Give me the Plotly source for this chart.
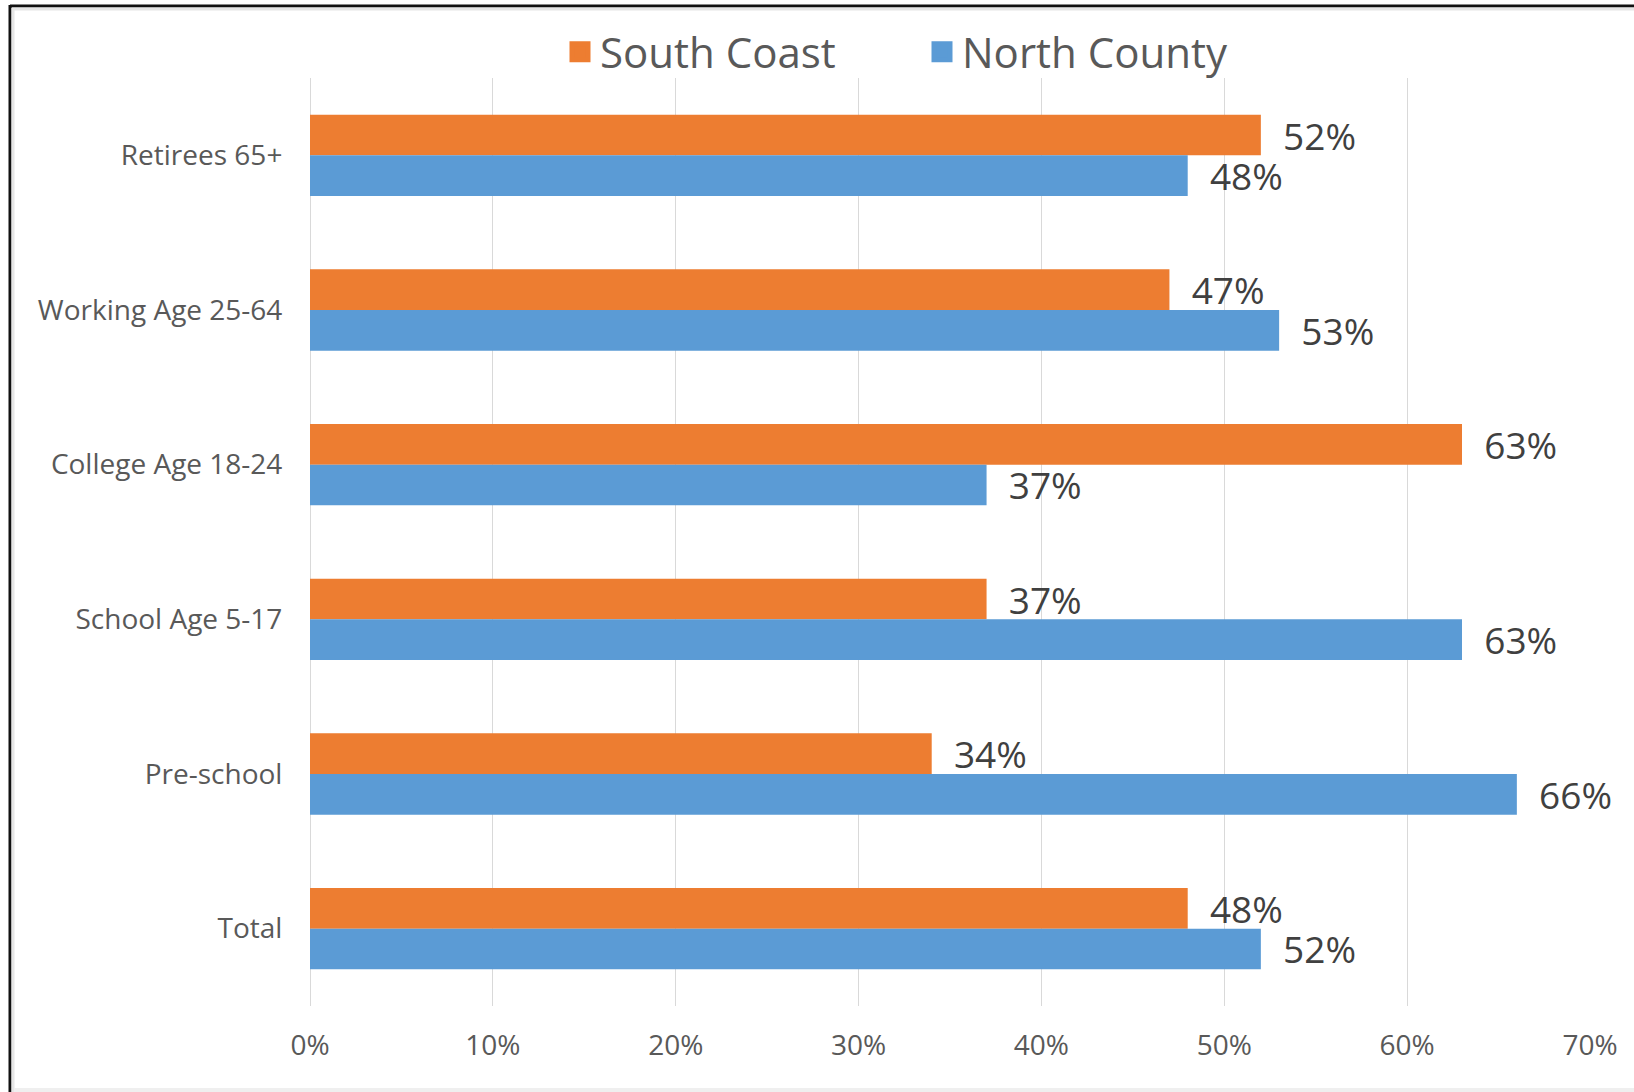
import plotly.graph_objects as go

categories = ["Retirees 65+", "Working Age 25-64", "College Age 18-24",
              "School Age 5-17", "Pre-school", "Total"]
series_names = ["South Coast", "North County"]
south_coast = [0.52, 0.47, 0.63, 0.37, 0.34, 0.48]
north_county = [0.48, 0.53, 0.37, 0.63, 0.66, 0.52]
series_colors = ["#ED7D31", "#5B9BD5"]
x_ticks = [0, 0.1, 0.2, 0.3, 0.4, 0.5, 0.6, 0.7]
x_ticklabels = ["0%", "10%", "20%", "30%", "40%", "50%", "60%", "70%"]

FONT = "Open Sans"
W, H = 1634, 1092
ML, MR, MT, MB = 310, 44, 78, 86
PW, PH = W - ML - MR, H - MT - MB


def px_x(px):
    return (px - ML) / PW


def px_y(py):
    return (H - MB - py) / PH


fig = go.Figure()
for name, vals, col in zip(series_names, [south_coast, north_county], series_colors):
    fig.add_trace(go.Bar(
        y=categories, x=vals, orientation="h", name=name,
        marker=dict(color=col, line=dict(width=0)),
        texttemplate="\u00a0\u00a0%{x:.0%}", textposition="outside",
        textfont=dict(family=FONT, size=37, color="#404040"),
        constraintext="none", cliponaxis=False, showlegend=False,
        hoverinfo="skip",
    ))

# legend entries with large square symbols
for name, col in zip(series_names, series_colors):
    fig.add_trace(go.Scatter(
        x=[None], y=[None], mode="markers", name=name,
        marker=dict(symbol="square", size=16, color=col,
                    line=dict(width=5, color=col)),
        showlegend=True, hoverinfo="skip",
    ))

fig.update_layout(
    width=W, height=H,
    margin=dict(l=ML, r=MR, t=MT, b=MB, pad=0),
    paper_bgcolor="white", plot_bgcolor="white",
    barmode="group", bargap=0.4745, bargroupgap=0,
    font=dict(family=FONT, color="#595959"),
    legend=dict(orientation="h", x=px_x(560), xanchor="left",
                y=px_y(52), yanchor="middle",
                font=dict(family=FONT, size=42, color="#595959"),
                entrywidth=317, entrywidthmode="pixels",
                bgcolor="rgba(0,0,0,0)", itemclick=False),
    xaxis=dict(range=[0, 0.7], tickvals=x_ticks, ticktext=x_ticklabels,
               showgrid=True, gridcolor="#D9D9D9", gridwidth=1,
               zeroline=True, zerolinecolor="#D9D9D9", zerolinewidth=1,
               showline=False, ticks="outside", ticklen=14,
               tickcolor="rgba(0,0,0,0)",
               tickfont=dict(family=FONT, size=28, color="#595959"),
               fixedrange=True),
    yaxis=dict(categoryorder="array", categoryarray=categories,
               autorange="reversed", showgrid=False, showline=False,
               zeroline=False, ticks="outside", ticklen=21,
               tickcolor="rgba(0,0,0,0)",
               tickfont=dict(family=FONT, size=28, color="#595959"),
               fixedrange=True),
    shapes=[
        # frame of the screenshot: black left and top edges
        dict(type="line", xref="paper", yref="paper",
             x0=px_x(10), x1=px_x(10), y0=px_y(5), y1=px_y(H),
             line=dict(color="#111111", width=3)),
        dict(type="line", xref="paper", yref="paper",
             x0=px_x(10), x1=px_x(W), y0=px_y(6), y1=px_y(6),
             line=dict(color="#111111", width=3)),
        dict(type="line", xref="paper", yref="paper",
             x0=px_x(13), x1=px_x(13), y0=px_y(8), y1=px_y(H),
             line=dict(color="#E6E6E6", width=3)),
        dict(type="line", xref="paper", yref="paper",
             x0=px_x(12), x1=px_x(W), y0=px_y(9), y1=px_y(9),
             line=dict(color="#E6E6E6", width=3)),
        dict(type="line", xref="paper", yref="paper",
             x0=px_x(14), x1=px_x(W), y0=px_y(1090), y1=px_y(1090),
             line=dict(color="#EFEFEF", width=4)),
    ],
)

fig.write_html("out.html",
               config={"displayModeBar": False},
               post_script="document.body.style.margin='0';"
                           "document.body.style.padding='0';"
                           "document.body.style.overflow='hidden';")
